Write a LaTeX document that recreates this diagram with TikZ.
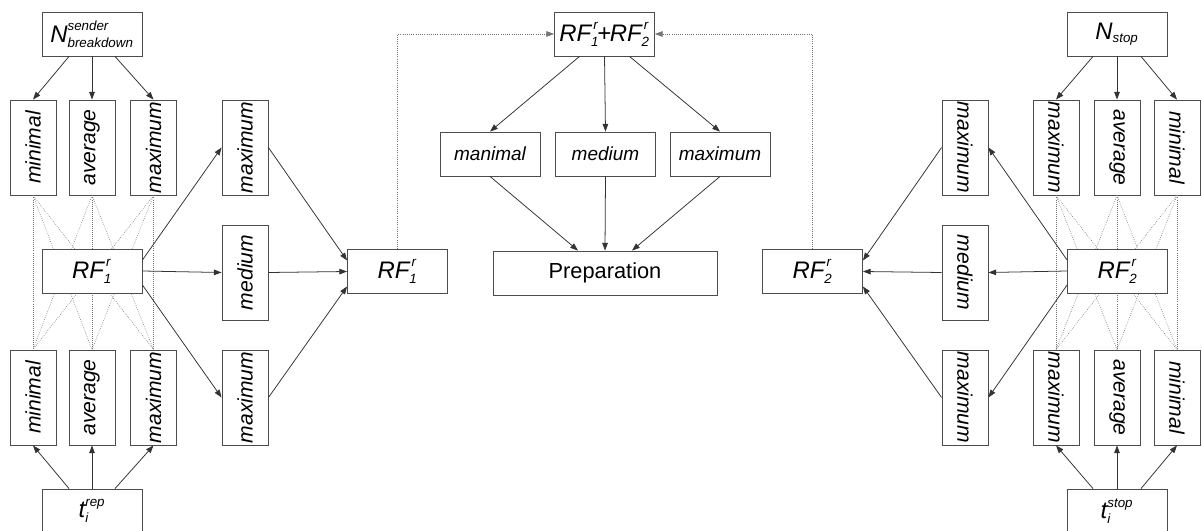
\documentclass[tikz,border=0pt]{standalone}
\usepackage{fontspec}
\setmainfont{Liberation Sans}
\usetikzlibrary{arrows.meta,calc}

\newcommand{\sm}{\fontsize{9.5}{10}\selectfont}
\newcommand{\bg}{\fontsize{17}{19}\selectfont}
\newcommand{\rfbox}[1]{$\mbox{\bg\itshape RF}^{\,\mbox{\sm\itshape r}}_{\mbox{\sm\itshape #1}}$}
\newcommand{\rup}[1]{\rotatebox{90}{#1}}
\newcommand{\rdn}[1]{\rotatebox{-90}{#1}}

\tikzstyle{box} = [draw=black!70, fill=white, rectangle, line width=0.6pt,
  inner sep=1pt, font=\itshape\fontsize{13.5}{15}\selectfont]
\tikzstyle{hbox} = [box, minimum width=2.5cm, minimum height=1.1cm]
\tikzstyle{vbox} = [box, minimum width=1.15cm, minimum height=2.375cm,
  font=\itshape\fontsize{15}{17}\selectfont]
\tikzstyle{prepbox} = [box, minimum width=5.6cm, minimum height=1.1cm,
  font=\fontsize{15.5}{17}\selectfont]
\tikzstyle{link} = [-{Triangle[length=5.5pt,width=4pt]}, black!80, line width=0.55pt]
\tikzstyle{mesh} = [black!55, densely dotted, line width=0.45pt]
\tikzstyle{fback} = [link, black!55, densely dotted, line width=0.45pt]

\begin{document}
\begin{tikzpicture}[x=0.025cm, y=-0.025cm]
        \useasboundingbox (0,0) rectangle (1202,531);

        % left block
        \node [hbox] (nsend) at (92,34)
          {$\mbox{\bg\itshape N}^{\mbox{\sm\itshape sender}}_{\mbox{\sm\itshape breakdown}}$};
        \node [vbox] (minA) at (33,147.5)    {\rup{minimal}};
        \node [vbox] (avgA) at (92,147.5)    {\rup{average}};
        \node [vbox] (maxA) at (153.5,147.5) {\rup{maximum}};
        \node [vbox] (minB) at (33,397.5)    {\rup{minimal}};
        \node [vbox] (avgB) at (92,397.5)    {\rup{average}};
        \node [vbox] (maxB) at (153.5,397.5) {\rup{maximum}};
        \node [hbox] (trep) at (92,511)
          {$\mbox{\bg\itshape t}^{\mbox{\sm\itshape rep}}_{\mbox{\sm\itshape i}}$};

        \foreach \a in {minA,avgA,maxA}
          \foreach \b in {minB,avgB,maxB}
            \draw[mesh] (\a.south) -- (\b.north);

        \node [hbox] (rf1)  at (92,271)    {\rfbox{1}};
        \node [vbox] (maxC) at (245,147.5) {\rup{maximum}};
        \node [vbox] (medC) at (245,272.5) {\rup{medium}};
        \node [vbox] (maxD) at (245,397.5) {\rup{maximum}};
        \node [hbox] (rf1p) at (397.5,271.5) {\rfbox{1}};

        % middle block
        \node [hbox] (sum) at (604.5,34)
          {\rfbox{1}\kern-1.5pt{\bg+}\kern-1pt\rfbox{2}};
        \node [hbox] (mnm) at (490,154)   {manimal};
        \node [hbox] (mdm) at (605.5,154) {medium};
        \node [hbox] (mxm) at (720,154)   {maximum};
        \node [prepbox] (prep) at (605,273) {Preparation};

        % right block
        \node [hbox] (nstop) at (1117,34)
          {$\mbox{\bg\itshape N}_{\mbox{\sm\itshape stop}}$};
        \node [vbox] (maxG) at (1056,147.5) {\rdn{maximum}};
        \node [vbox] (avgG) at (1117,147.5) {\rdn{average}};
        \node [vbox] (minG) at (1177,147.5) {\rdn{minimal}};
        \node [vbox] (maxH) at (1056,397.5) {\rdn{maximum}};
        \node [vbox] (avgH) at (1117,397.5) {\rdn{average}};
        \node [vbox] (minH) at (1177,397.5) {\rdn{minimal}};
        \node [hbox] (tstop) at (1117,511)
          {$\mbox{\bg\itshape t}^{\mbox{\sm\itshape stop}}_{\mbox{\sm\itshape i}}$};

        \foreach \a in {maxG,avgG,minG}
          \foreach \b in {maxH,avgH,minH}
            \draw[mesh] (\a.south) -- (\b.north);

        \node [hbox] (rf2)  at (1117.5,271) {\rfbox{2}};
        \node [vbox] (maxE) at (965,147.5)  {\rdn{maximum}};
        \node [vbox] (medE) at (965,272.5)  {\rdn{medium}};
        \node [vbox] (maxF) at (965,397.5)  {\rdn{maximum}};
        \node [hbox] (rf2p) at (812.5,271.5) {\rfbox{2}};

        % left arrows
        \draw[link] ($(nsend.south)+(-23,0)$) -- (minA.north);
        \draw[link] (nsend.south) -- (avgA.north);
        \draw[link] ($(nsend.south)+(23,0)$) -- (maxA.north);
        \draw[link] ($(trep.north)+(-23,0)$) -- (minB.south);
        \draw[link] (trep.north) -- (avgB.south);
        \draw[link] ($(trep.north)+(23,0)$) -- (maxB.south);
        \draw[link] ($(rf1.east)+(0,-11)$) -- (maxC.west);
        \draw[link] (rf1.east) -- (medC.west);
        \draw[link] ($(rf1.east)+(0,14)$) -- (maxD.west);
        \draw[link] (maxC.east) -- ($(rf1p.west)+(0,-11)$);
        \draw[link] (medC.east) -- (rf1p.west);
        \draw[link] (maxD.east) -- ($(rf1p.west)+(0,15)$);

        % middle arrows
        \draw[fback] (rf1p.north) |- (sum.west);
        \draw[fback] (rf2p.north) |- (sum.east);
        \draw[link] ($(sum.south)+(-25,0)$) -- (mnm.north);
        \draw[link] (sum.south) -- (mdm.north);
        \draw[link] ($(sum.south)+(25,0)$) -- (mxm.north);
        \draw[link] (mnm.south) -- ($(prep.north)+(-27,0)$);
        \draw[link] (mdm.south) -- (prep.north);
        \draw[link] (mxm.south) -- ($(prep.north)+(27,0)$);

        % right arrows
        \draw[link] ($(nstop.south)+(-24,0)$) -- (maxG.north);
        \draw[link] (nstop.south) -- (avgG.north);
        \draw[link] ($(nstop.south)+(24,0)$) -- (minG.north);
        \draw[link] ($(tstop.north)+(-24,0)$) -- (maxH.south);
        \draw[link] (tstop.north) -- (avgH.south);
        \draw[link] ($(tstop.north)+(24,0)$) -- (minH.south);
        \draw[link] ($(rf2.west)+(0,-11)$) -- (maxE.east);
        \draw[link] (rf2.west) -- (medE.east);
        \draw[link] ($(rf2.west)+(0,14)$) -- (maxF.east);
        \draw[link] (maxE.west) -- ($(rf2p.east)+(0,-11)$);
        \draw[link] (medE.west) -- (rf2p.east);
        \draw[link] (maxF.west) -- ($(rf2p.east)+(0,15)$);
      \end{tikzpicture}
\end{document}
